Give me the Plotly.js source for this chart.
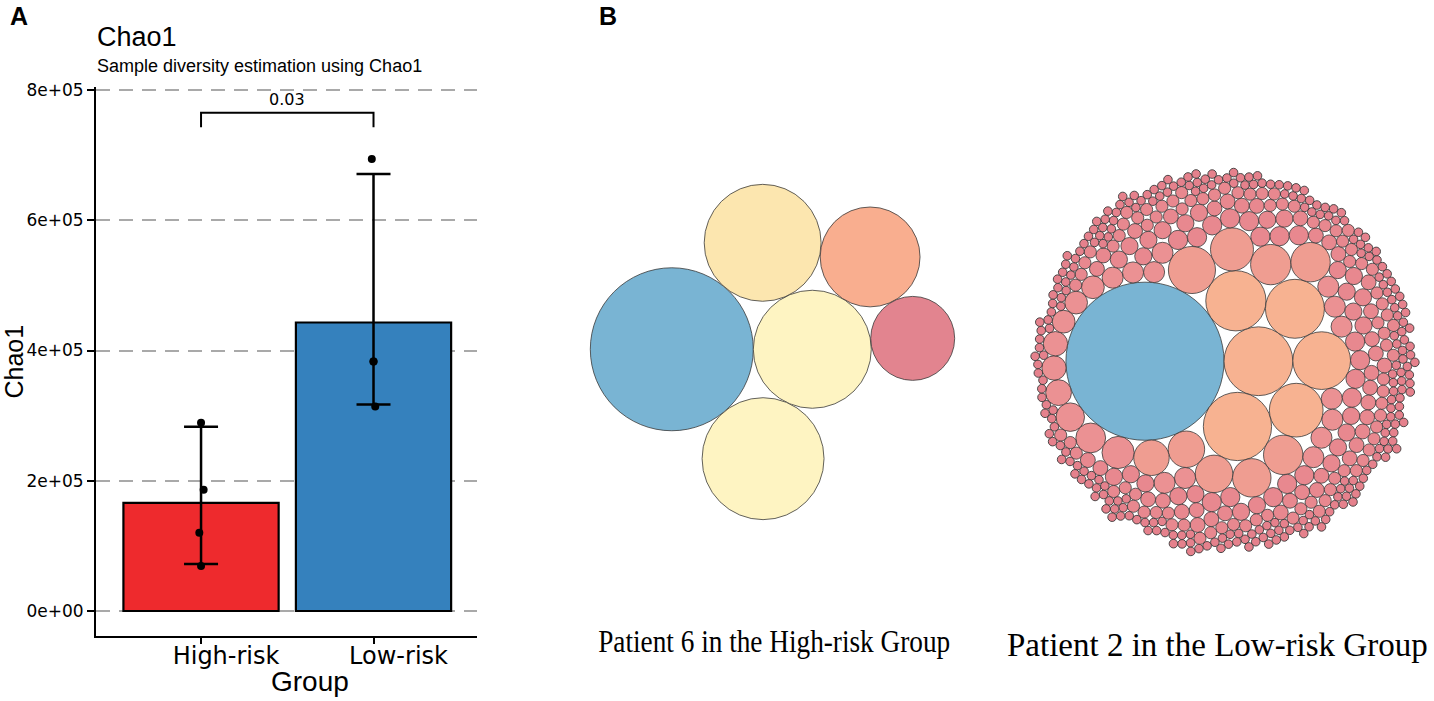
<!DOCTYPE html>
<html>
<head>
<meta charset="utf-8">
<script src="https://cdn.plot.ly/plotly-3.0.1.min.js"></script>
<style>
html,body{margin:0;padding:0;background:#fff;}
#chart{width:1434px;height:701px;}
</style>
</head>
<body>
<div id="chart"></div>
<script>
// ---------------- Panel A data ----------------
const groups = ['High-risk', 'Low-risk'];
const groupMeans = [166000, 443000];
const errUpper = [283000, 671000];
const errLower = [72000, 317000];
const highPoints = [289000, 186000, 120000, 69000];
const highJitter = [0.0, 0.015, -0.01, 0.0];
const lowPoints = [694000, 383000, 383000, 314000];
const lowJitter = [-0.01, 0.0, 0.0, 0.01];
const pLabel = '0.03';
const bracketY = [743000, 765000];
const yTickVals = [0, 200000, 400000, 600000, 800000];
const yTickText = ['0e+00', '2e+05', '4e+05', '6e+05', '8e+05'];

// ---------------- Panel B data ----------------
// Patient 6 (High-risk): clone frequencies (%) in plotting order
const highCloneFreq = [30.9, 16.2, 17.3, 15.9, 11.6, 8.2];
const highCloneColor = ['#79B4D3', '#FEF4C2', '#FEF4C2', '#FCE6AF', '#F9AE8F', '#E2848F'];
// Patient 2 (Low-risk): clone size (reads) and number of clones with that size
const lowCloneSize  = [338, 64, 63, 49, 47, 45, 39, 30, 25, 22, 21, 20, 19, 18, 17, 14, 12, 11, 9, 8, 7, 6,  5,  4,  3,  2,   1];
const lowCloneCount = [1,   1,  1,  1,  1,  1,  1,  1,  1,  1,  2,  1,  1,  1,  1,  1,  1,  1,  1, 2, 3, 13, 17, 26, 38, 80, 250];
const panelLabels = ['Patient 6 in the High-risk Group', 'Patient 2 in the Low-risk Group'];

// ---------------- progressive circle packing (front chain, closest-to-origin) ----------------
function placeT(m, n, c) {
  const dx = n.x - m.x, dy = n.y - m.y, d = Math.sqrt(dx * dx + dy * dy);
  const a = m.r + c.r, b = n.r + c.r;
  const x = (d * d + a * a - b * b) / (2 * d);
  const h = Math.sqrt(Math.max(0, a * a - x * x));
  const ux = dx / d, uy = dy / d;
  c.x = m.x + x * ux - h * uy;
  c.y = m.y + x * uy + h * ux;
}
function intersects(a, b) {
  const dr = a.r + b.r - 1e-6, dx = b.x - a.x, dy = b.y - a.y;
  return dr > 0 && dr * dr > dx * dx + dy * dy;
}
function packProgressive(circles) {
  const n = circles.length;
  if (!n) return;
  const c0 = circles[0]; c0.x = -c0.r; c0.y = 0;
  if (n < 2) return;
  const c1 = circles[1]; c1.x = c1.r; c1.y = 0;
  if (n < 3) return;
  const c2 = circles[2]; placeT(c0, c1, c2);
  const A = {_: c0}, B = {_: c1}, C = {_: c2};
  A.next = C; C.prev = A; C.next = B; B.prev = C; B.next = A; A.prev = B;
  let head = A;
  function closest() {
    let best = head, bd = Infinity, node = head;
    do {
      const d = node._.x * node._.x + node._.y * node._.y;
      if (d < bd) { bd = d; best = node; }
      node = node.next;
    } while (node !== head);
    return best;
  }
  let m = closest(), nn = m.next;
  let guard = 0;
  outer: for (let i = 3; i < n; i++) {
    if (++guard > 200000) break;
    const c = circles[i];
    placeT(m._, nn._, c);
    let j = nn.next, k = m.prev, sj = nn._.r, sk = m._.r;
    do {
      if (sj <= sk) {
        if (intersects(j._, c)) { nn = j; m.next = nn; nn.prev = m; head = m; i--; continue outer; }
        sj += j._.r; j = j.next;
      } else {
        if (intersects(k._, c)) { m = k; m.next = nn; nn.prev = m; head = m; i--; continue outer; }
        sk += k._.r; k = k.prev;
      }
    } while (j !== k.next);
    const node = {_: c, prev: m, next: nn};
    m.next = node; nn.prev = node;
    head = node;
    m = closest(); nn = m.next;
  }
}

// styling helpers
const HIGH_K = 14.66;   // px per sqrt(%)
const LOW_K = 4.3;      // px per sqrt(read)
function lowColor(s) {
  if (s >= 100) return '#79B4D3';
  if (s >= 35) return '#F7B291';
  if (s >= 15) return '#EF9D91';
  if (s >= 6) return '#EB9193';
  if (s >= 2) return '#E8888F';
  return '#E5818C';
}

const highCircles = highCloneFreq.map((f, i) => ({r: HIGH_K * Math.sqrt(f), color: highCloneColor[i]}));
const lowCircles = [];
lowCloneSize.forEach((s, i) => {
  for (let k = 0; k < lowCloneCount[i]; k++) lowCircles.push({r: LOW_K * Math.sqrt(s), color: lowColor(s)});
});
packProgressive(highCircles);
packProgressive(lowCircles);

function toShapes(circles, centerX, centerY) {
  let x0 = Infinity, x1 = -Infinity, y0 = Infinity, y1 = -Infinity;
  circles.forEach(c => {
    x0 = Math.min(x0, c.x - c.r); x1 = Math.max(x1, c.x + c.r);
    y0 = Math.min(y0, c.y - c.r); y1 = Math.max(y1, c.y + c.r);
  });
  const ox = centerX - (x0 + x1) / 2, oy = centerY - (y0 + y1) / 2;
  return circles.map(c => ({
    type: 'circle', xref: 'x2', yref: 'y2', layer: 'above',
    x0: c.x - c.r + ox, x1: c.x + c.r + ox,
    y0: c.y - c.r + oy, y1: c.y + c.r + oy,
    fillcolor: c.color,
    line: {color: '#3a3a3a', width: c.r < 6 ? 0.9 : 0.8}
  }));
}
const shapes = toShapes(highCircles, 772.5, 352).concat(toShapes(lowCircles, 1225, 362));

// ---------------- traces ----------------
const barTrace = {
  type: 'bar', x: [0, 1], y: groupMeans, width: 0.9,
  marker: {color: ['#EE2A2D', '#3581BD'], line: {color: '#000', width: 2.2}},
  error_y: {
    type: 'data', symmetric: false,
    array: groupMeans.map((m, i) => errUpper[i] - m),
    arrayminus: groupMeans.map((m, i) => m - errLower[i]),
    color: '#000', thickness: 2.5, width: 17
  },
  hoverinfo: 'skip', showlegend: false, xaxis: 'x', yaxis: 'y'
};
const pointTrace = {
  type: 'scatter', mode: 'markers',
  x: highJitter.map(j => 0 + j).concat(lowJitter.map(j => 1 + j)),
  y: highPoints.concat(lowPoints),
  marker: {color: '#000', size: 8},
  hoverinfo: 'skip', showlegend: false, xaxis: 'x', yaxis: 'y'
};
const bracketTrace = {
  type: 'scatter', mode: 'lines',
  x: [0, 0, 1, 1], y: [bracketY[0], bracketY[1], bracketY[1], bracketY[0]],
  line: {color: '#000', width: 2}, hoverinfo: 'skip', showlegend: false, xaxis: 'x', yaxis: 'y'
};
const dummyB = {type: 'scatter', x: [], y: [], xaxis: 'x2', yaxis: 'y2', showlegend: false, hoverinfo: 'skip'};

const sansT = 'Liberation Sans, Arial, sans-serif';
const sansW = 'DejaVu Sans, sans-serif';
const serif = 'Liberation Serif, Times New Roman, serif';

const layout = {
  width: 1434, height: 701,
  margin: {l: 0, r: 0, t: 0, b: 0},
  paper_bgcolor: '#fff', plot_bgcolor: 'rgba(0,0,0,0)',
  showlegend: false,
  xaxis: {
    domain: [96 / 1434, 477 / 1434], range: [-0.609, 1.6],
    tickvals: [0, 1], ticktext: groups,
    tickfont: {family: sansW, size: 24, color: '#000'},
    ticklabelshift: 25, ticklabelstandoff: -9,
    ticks: 'outside', ticklen: 6, tickwidth: 2, tickcolor: '#000',
    showline: true, linecolor: '#000', linewidth: 2,
    showgrid: false, zeroline: false, fixedrange: true,
    anchor: 'y'
  },
  yaxis: {
    domain: [65 / 701, (701 - 87.4) / 701], range: [-38400, 804000],
    tickvals: yTickVals, ticktext: yTickText,
    tickfont: {family: sansW, size: 17, color: '#000'},
    ticks: 'outside', ticklen: 7, tickwidth: 2, tickcolor: '#000',
    showline: true, linecolor: '#000', linewidth: 2,
    showgrid: true, gridcolor: '#A9A9A9', gridwidth: 2, griddash: '14px,9px',
    zeroline: false, fixedrange: true,
    title: {text: 'Chao1', font: {family: sansT, size: 25, color: '#000'}, standoff: 8},
    anchor: 'x'
  },
  xaxis2: {domain: [0, 1], range: [0, 1434], visible: false, fixedrange: true, anchor: 'y2'},
  yaxis2: {domain: [0, 1], range: [701, 0], visible: false, fixedrange: true, anchor: 'x2'},
  shapes: shapes,
  annotations: [
    {text: '<b>A</b>', xref: 'paper', yref: 'paper', x: 8 / 1434, y: 1, xanchor: 'left', yanchor: 'top',
     showarrow: false, font: {family: sansT, size: 25, color: '#000'}},
    {text: '<b>B</b>', xref: 'paper', yref: 'paper', x: 597 / 1434, y: 1, xanchor: 'left', yanchor: 'top',
     showarrow: false, font: {family: sansT, size: 25, color: '#000'}},
    {text: 'Chao1', xref: 'paper', yref: 'paper', x: 95 / 1434, y: 1 - 37 / 701, xanchor: 'left', yanchor: 'middle',
     showarrow: false, font: {family: sansT, size: 27, color: '#000'}},
    {text: 'Sample diversity estimation using Chao1', xref: 'paper', yref: 'paper', x: 95 / 1434, y: 1 - 66 / 701,
     xanchor: 'left', yanchor: 'middle', showarrow: false, font: {family: sansT, size: 18, color: '#000'}},
    {text: 'Group', xref: 'paper', yref: 'paper', x: 310 / 1434, y: 1 - 681 / 701, xanchor: 'center', yanchor: 'middle',
     showarrow: false, font: {family: sansT, size: 28, color: '#000'}},
    {text: pLabel, xref: 'x', yref: 'y', x: 0.5, y: bracketY[1], yanchor: 'bottom', yshift: 2,
     showarrow: false, font: {family: sansW, size: 16, color: '#000'}},
    {text: panelLabels[0], xref: 'paper', yref: 'paper', x: 774 / 1434, y: 1 - 641 / 701, xanchor: 'center', yanchor: 'middle',
     showarrow: false, font: {family: serif, size: 31, color: '#000'}},
    {text: panelLabels[1], xref: 'paper', yref: 'paper', x: 1217 / 1434, y: 1 - 645 / 701, xanchor: 'center', yanchor: 'middle',
     showarrow: false, font: {family: serif, size: 33, color: '#000'}}
  ]
};

Plotly.newPlot('chart', [barTrace, pointTrace, bracketTrace, dummyB], layout, {staticPlot: true, displayModeBar: false})
  .then(gd => {
    // the first caption is set in a condensed face in the figure: fit it to its width there
    gd.querySelectorAll('text.annotation-text').forEach(t => {
      if (t.textContent === panelLabels[0]) {
        t.setAttribute('textLength', 352);
        t.setAttribute('lengthAdjust', 'spacingAndGlyphs');
      }
    });
  });
</script>
</body>
</html>
